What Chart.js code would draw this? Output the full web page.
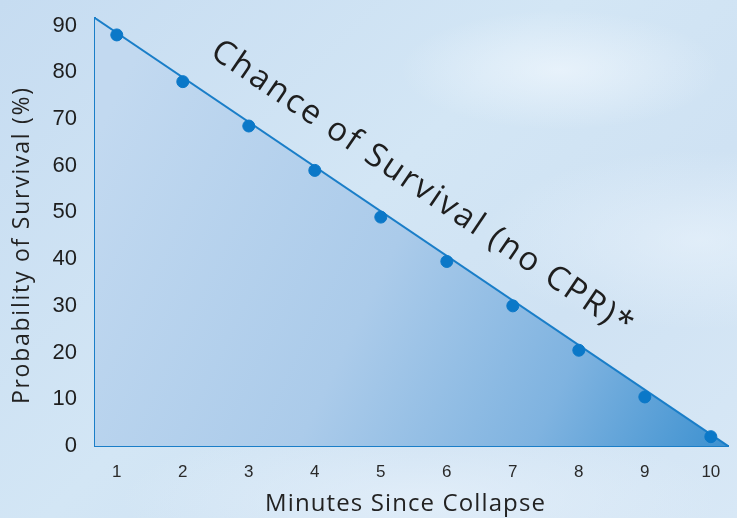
<!DOCTYPE html>
<html>
<head>
<meta charset="utf-8">
<script src="https://cdn.jsdelivr.net/npm/chart.js@4.4.1/dist/chart.umd.min.js"></script>
<style>
  html, body { margin: 0; padding: 0; }
  body {
    width: 737px; height: 518px; overflow: hidden;
    background:
      radial-gradient(ellipse 160px 60px at 560px 70px, rgba(240,247,253,0.7), rgba(240,247,253,0) 100%),
      radial-gradient(ellipse 220px 90px at 700px 240px, rgba(235,244,252,0.6), rgba(235,244,252,0) 100%),
      radial-gradient(ellipse 300px 80px at 420px 500px, rgba(232,242,251,0.7), rgba(232,242,251,0) 100%),
      linear-gradient(135deg, #c6dcf1 0%, #d3e6f5 45%, #cfe2f3 70%, #d8e8f6 100%);
  }
  canvas { display: block; }
</style>
</head>
<body>
<canvas id="c" width="737" height="518"></canvas>
<script>
// ---- data ----
const minutes = [1, 2, 3, 4, 5, 6, 7, 8, 9, 10];
const survival = [88, 78, 68.5, 59, 49, 39.5, 30, 20.5, 10.5, 2];
// trend line drawn through the points, extended to the axes
const trendX = [0.67, 10.26];
const trendY = [91.6, 0];
const yTicks = [0, 10, 20, 30, 40, 50, 60, 70, 80, 90];
const xTicks = [1, 2, 3, 4, 5, 6, 7, 8, 9, 10];
const annotationText = 'Chance of Survival (no CPR)*';
const xTitle = 'Minutes Since Collapse';
const yTitle = 'Probability of Survival (%)';

const FONT = '"Liberation Sans", Arial, sans-serif';
const TFONT = '"Open Sans", "Liberation Sans", sans-serif';
const BLUE = '#1a7ec8';

// draw text with a given font size, stretched with letter spacing to a target width
function spacedText(ctx, text, size, targetW) {
  ctx.font = size + 'px ' + TFONT;
  ctx.letterSpacing = '0px';
  const w = ctx.measureText(text).width;
  const n = text.length;
  const ls = Math.max(0, (targetW - w) / n);
  ctx.letterSpacing = ls.toFixed(2) + 'px';
  // center compensation (letterSpacing adds space after each glyph)
  ctx.textAlign = 'left';
  ctx.fillText(text, -(w + ls * (n - 1)) / 2, 0);
}

const textPlugin = {
  id: 'texts',
  afterDraw(chart) {
    const { ctx, scales, chartArea } = chart;
    // annotation along the trend line
    const x0 = scales.x.getPixelForValue(trendX[0]);
    const y0 = scales.y.getPixelForValue(trendY[0]);
    const x1 = scales.x.getPixelForValue(trendX[1]);
    const y1 = scales.y.getPixelForValue(trendY[1]);
    const ang = Math.atan2(y1 - y0, x1 - x0);
    const t = 0.479;
    const px = x0 + (x1 - x0) * t;
    const py = y0 + (y1 - y0) * t;
    const off = 42;
    ctx.save();
    ctx.translate(px + Math.sin(ang) * off, py - Math.cos(ang) * off);
    ctx.rotate(ang);
    ctx.fillStyle = '#1e1e1e';
    ctx.textBaseline = 'middle';
    spacedText(ctx, annotationText, 33, 503);
    ctx.restore();

    // x title
    ctx.save();
    ctx.translate(405, 504);
    ctx.fillStyle = '#222';
    ctx.textBaseline = 'middle';
    spacedText(ctx, xTitle, 24, 281);
    ctx.restore();

    // y title
    ctx.save();
    ctx.translate(22, 246);
    ctx.rotate(-Math.PI / 2);
    ctx.fillStyle = '#222';
    ctx.textBaseline = 'middle';
    spacedText(ctx, yTitle, 23, 318);
    ctx.restore();
  }
};

const ctx = document.getElementById('c').getContext('2d');
new Chart(ctx, {
  type: 'scatter',
  data: {
    datasets: [
      {
        type: 'scatter',
        data: minutes.map((m, i) => ({ x: m, y: survival[i] })),
        backgroundColor: '#0b78c8',
        borderColor: '#0b78c8',
        pointRadius: 6,
        pointHoverRadius: 6,
        order: 0
      },
      {
        type: 'line',
        data: trendX.map((v, i) => ({ x: v, y: trendY[i] })),
        borderColor: BLUE,
        borderWidth: 2,
        pointRadius: 0,
        fill: 'origin',
        backgroundColor: (c) => {
          const area = c.chart.chartArea;
          if (!area) return '#a9cbea';
          const g = c.chart.ctx.createLinearGradient(area.left, area.top + 120, area.right, area.bottom);
          g.addColorStop(0, '#c2d9f0');
          g.addColorStop(0.45, '#abcbea');
          g.addColorStop(0.75, '#7fb3e0');
          g.addColorStop(1, '#3d91d0');
          return g;
        },
        order: 1
      }
    ]
  },
  options: {
    responsive: false,
    animation: false,
    layout: { padding: { top: 18, right: 9, left: 0, bottom: 0 } },
    plugins: { legend: { display: false }, tooltip: { enabled: false } },
    scales: {
      x: {
        type: 'linear',
        min: trendX[0],
        max: trendX[1],
        afterBuildTicks: (s) => { s.ticks = xTicks.map(v => ({ value: v })); },
        ticks: { font: { family: FONT, size: 17 }, color: '#2a2a2a', padding: 16 },
        grid: { display: true, color: 'transparent', drawTicks: false },
        border: { display: true, color: BLUE, width: 2 },
        title: { display: false, text: xTitle },
        afterFit: (s) => { s.height = 72; }
      },
      y: {
        type: 'linear',
        min: 0,
        max: trendY[0],
        afterBuildTicks: (s) => { s.ticks = yTicks.map(v => ({ value: v })); },
        ticks: { font: { family: FONT, size: 22, lineHeight: 0.01 }, color: '#1e1e1e', padding: 18 },
        grid: { display: true, color: 'transparent', drawTicks: false },
        border: { display: true, color: BLUE, width: 2 },
        title: { display: false, text: yTitle },
        afterFit: (s) => { s.width = 95; }
      }
    }
  },
  plugins: [textPlugin]
});
</script>
</body>
</html>
